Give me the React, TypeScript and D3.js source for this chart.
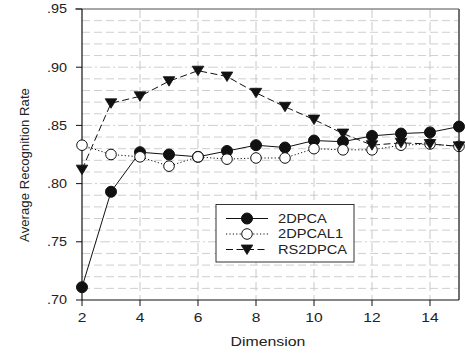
import React from "react";
import * as d3 from "d3";

const dims = [2, 3, 4, 5, 6, 7, 8, 9, 10, 11, 12, 13, 14, 15];
const s2DPCA = [0.711, 0.793, 0.827, 0.825, 0.823, 0.828, 0.833, 0.831, 0.837, 0.836, 0.841, 0.843, 0.844, 0.849];
const s2DPCAL1 = [0.833, 0.825, 0.823, 0.815, 0.823, 0.821, 0.822, 0.822, 0.830, 0.829, 0.829, 0.833, 0.834, 0.832];
const sRS2DPCA = [0.812, 0.869, 0.875, 0.888, 0.897, 0.892, 0.878, 0.866, 0.855, 0.843, 0.833, 0.835, 0.834, 0.832];
const yTicks = [0.7, 0.75, 0.8, 0.85, 0.9, 0.95];
const yTickLabels = [".70", ".75", ".80", ".85", ".90", ".95"];
const xTicks = [2, 4, 6, 8, 10, 12, 14];
const seriesNames = ["2DPCA", "2DPCAL1", "RS2DPCA"];

const FONT = "'Liberation Sans', Arial, Helvetica, sans-serif";

export default function App() {
  const W = 465, H = 353;
  const x = d3.scaleLinear().domain([2, 15]).range([82, 459]);
  const y = d3.scaleLinear().domain([0.7, 0.95]).range([300, 9]);
  const minor = d3.range(71, 95).map((v) => v / 100);
  const line = d3
    .line<number>()
    .x((_, i) => x(dims[i]))
    .y((d) => y(d));

  const circleFilled = (cx: number, cy: number, k: string) => (
    <circle key={k} cx={cx} cy={cy} r={5.5} fill="#111" stroke="#111" strokeWidth={1} />
  );
  const circleOpen = (cx: number, cy: number, k: string) => (
    <circle key={k} cx={cx} cy={cy} r={5.3} fill="#fff" stroke="#111" strokeWidth={1} />
  );
  const tri = (cx: number, cy: number, k: string) => (
    <path key={k} d={`M${cx - 5.8},${cy - 4.5}L${cx + 5.8},${cy - 4.5}L${cx},${cy + 5}Z`} fill="#111" stroke="#111" strokeWidth={0.8} />
  );

  const series = [
    { data: s2DPCA, dash: undefined as string | undefined, marker: circleFilled },
    { data: s2DPCAL1, dash: "1.2,2.2", marker: circleOpen },
    { data: sRS2DPCA, dash: "7,3.5", marker: tri },
  ];

  const txt = (
    xx: number,
    yy: number,
    s: string,
    anchor: string,
    size: number,
    sx: number,
    key?: string
  ) => (
    <text
      key={key}
      transform={`translate(${xx},${yy}) scale(${sx},1)`}
      textAnchor={anchor}
      fontFamily={FONT}
      fontSize={size}
      fill="#222"
    >
      {s}
    </text>
  );

  return (
    <svg width={W} height={H} style={{ position: "absolute", left: 0, top: 0, background: "#fff" }}>
      <rect x={0} y={0} width={W} height={H} fill="#fff" />
      {/* horizontal grid */}
      {minor.map((v) => {
        const major = Math.abs((v * 100) % 5) < 1e-6;
        return (
          <line
            key={"h" + v}
            x1={x(2)}
            x2={x(15)}
            y1={y(v)}
            y2={y(v)}
            stroke="#cfcfcf"
            strokeWidth={1}
            strokeDasharray={major ? "10,3,2,3" : "8,4"}
          />
        );
      })}
      {/* vertical grid */}
      {xTicks.slice(1).map((v) => (
        <line
          key={"v" + v}
          x1={x(v)}
          x2={x(v)}
          y1={y(0.95)}
          y2={y(0.7)}
          stroke="#c8c8c8"
          strokeWidth={1}
          strokeDasharray="9,4"
        />
      ))}
      {/* frame top & right */}
      <line x1={x(2) - 7} x2={x(15)} y1={y(0.95)} y2={y(0.95)} stroke="#8a8a8a" strokeWidth={1.5} />
      <line x1={x(15)} x2={x(15)} y1={y(0.95)} y2={y(0.7)} stroke="#707070" strokeWidth={2} />
      {/* axes */}
      <line x1={x(2)} x2={x(2)} y1={y(0.95)} y2={y(0.7)} stroke="#111" strokeWidth={1.2} />
      <line x1={x(2)} x2={x(15)} y1={y(0.7)} y2={y(0.7)} stroke="#111" strokeWidth={1.2} />
      {yTicks.map((v, i) => (
        <g key={"yt" + v}>
          <line x1={x(2) - 6} x2={x(2)} y1={y(v)} y2={y(v)} stroke="#111" strokeWidth={1} />
          {txt(67, y(v) + 4.3, yTickLabels[i], "end", 12, 1.2)}
        </g>
      ))}
      {xTicks.map((v) => (
        <g key={"xt" + v}>
          <line x1={x(v)} x2={x(v)} y1={y(0.7)} y2={y(0.7) + 6} stroke="#111" strokeWidth={1} />
          {txt(x(v), 322, String(v), "middle", 12, 1.3)}
        </g>
      ))}
      {txt(268, 346, "Dimension", "middle", 12.5, 1.27)}
      <text
        transform={`translate(29,165) rotate(-90) scale(1.1,1)`}
        textAnchor="middle"
        fontFamily={FONT}
        fontSize={12}
        fill="#222"
      >
        Average Recognition Rate
      </text>
      {/* series */}
      {series.map((s, si) => (
        <g key={"s" + si}>
          <path d={line(s.data) || ""} fill="none" stroke="#111" strokeWidth={1} strokeDasharray={s.dash} />
          {s.data.map((d, i) => s.marker(x(dims[i]), y(d), `m${si}-${i}`))}
        </g>
      ))}
      {/* legend */}
      <rect x={216} y={204.5} width={138} height={57.5} fill="#fff" stroke="#333" strokeWidth={1} />
      {series.map((s, i) => {
        const ly = 218.5 + i * 15.5;
        return (
          <g key={"lg" + i}>
            <line x1={226} x2={268} y1={ly} y2={ly} stroke="#111" strokeWidth={1} strokeDasharray={s.dash} />
            {s.marker(247, ly, "lm" + i)}
            {txt(278, ly + 4.3, seriesNames[i], "start", 12, 1.22)}
          </g>
        );
      })}
    </svg>
  );
}
